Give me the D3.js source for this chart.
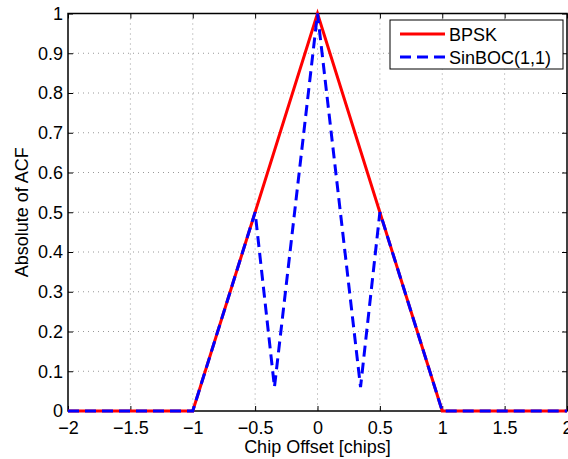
<!DOCTYPE html>
<html><head><meta charset="utf-8">
<script src="https://cdn.jsdelivr.net/npm/d3@7"></script>
<style>
body{margin:0;background:#fff;}
text{font-family:"Liberation Sans",Arial,Helvetica,sans-serif;}
</style></head>
<body>
<svg id="chart" width="568" height="459"></svg>
<script>
// Data
const bpskX = [-2, -1, 0, 1, 2];
const bpskY = [0, 0, 1, 0, 0];
const bocX = [-2, -1, -0.5, -0.345, 0, 0.345, 0.5, 1, 2];
const bocY = [0, 0, 0.5, 0.06, 1, 0.06, 0.5, 0, 0];
const xTicks = [-2, -1.5, -1, -0.5, 0, 0.5, 1, 1.5, 2];
const yTicks = [0, 0.1, 0.2, 0.3, 0.4, 0.5, 0.6, 0.7, 0.8, 0.9, 1];
const seriesNames = ["BPSK", "SinBOC(1,1)"];

const FS = 18;
const svg = d3.select("#chart");
const L = 68, R = 567, T = 13.5, B = 411;
const x = d3.scaleLinear().domain([-2, 2]).range([L, R]);
const y = d3.scaleLinear().domain([0, 1]).range([B, T]);
const fmt = d => (d < 0 ? "\u2212" : "") + String(Math.abs(d));

// grid
const grid = svg.append("g");
grid.selectAll(".gx").data(xTicks.slice(1, -1)).enter().append("line")
  .attr("x1", d => x(d)).attr("x2", d => x(d)).attr("y1", T).attr("y2", B)
  .attr("stroke", "#999").attr("stroke-width", 1).attr("stroke-dasharray", "1,4");
grid.selectAll(".gy").data(yTicks.slice(1, -1)).enter().append("line")
  .attr("y1", d => y(d)).attr("y2", d => y(d)).attr("x1", L).attr("x2", R)
  .attr("stroke", "#999").attr("stroke-width", 1).attr("stroke-dasharray", "1,4");

// axes
const xAxis = d3.axisBottom(x).tickValues(xTicks).tickSize(-5).tickPadding(10).tickFormat(fmt);
const yAxis = d3.axisLeft(y).tickValues(yTicks).tickSize(-5).tickPadding(5).tickFormat(d => String(d));
const xAxisTop = d3.axisTop(x).tickValues(xTicks).tickSize(-5).tickFormat("");
const yAxisRight = d3.axisRight(y).tickValues(yTicks).tickSize(-5).tickFormat("");

function styleAxis(g) {
  g.select(".domain").remove();
  g.selectAll(".tick line").attr("stroke", "#000").attr("stroke-width", 1);
  g.selectAll(".tick text").attr("font-size", FS).attr("fill", "#000")
    .attr("font-family", '"Liberation Sans",Arial,sans-serif');
}
svg.append("g").attr("transform", `translate(0,${B})`).call(xAxis).call(styleAxis);
svg.append("g").attr("transform", `translate(${L},0)`).call(yAxis).call(styleAxis);
svg.append("g").attr("transform", `translate(0,${T})`).call(xAxisTop).call(styleAxis);
svg.append("g").attr("transform", `translate(${R},0)`).call(yAxisRight).call(styleAxis);

// box
svg.append("rect").attr("x", L).attr("y", T).attr("width", R - L).attr("height", B - T)
  .attr("fill", "none").attr("stroke", "#000").attr("stroke-width", 1.5);

// lines
const line = d3.line().x(d => x(d[0])).y(d => y(d[1]));
const bpsk = bpskX.map((v, i) => [v, bpskY[i]]);
const boc = bocX.map((v, i) => [v, bocY[i]]);
svg.append("path").datum(bpsk).attr("d", line).attr("fill", "none")
  .attr("stroke", "#ff0000").attr("stroke-width", 3).attr("stroke-linejoin", "miter");
svg.append("path").datum(boc).attr("d", line).attr("fill", "none")
  .attr("stroke", "#0000ff").attr("stroke-width", 3).attr("stroke-dasharray", "11,6");

// axis labels
svg.append("text").attr("x", (L + R) / 2).attr("y", 453).attr("text-anchor", "middle")
  .attr("font-size", FS).text("Chip Offset [chips]");
svg.append("text").attr("transform", `translate(28,${(T + B) / 2}) rotate(-90)`)
  .attr("text-anchor", "middle").attr("font-size", FS).text("Absolute of ACF");

// legend
const lg = svg.append("g");
lg.append("rect").attr("x", 390).attr("y", 20).attr("width", 173).attr("height", 49)
  .attr("fill", "#fff").attr("stroke", "#000").attr("stroke-width", 1);
const colors = ["#ff0000", "#0000ff"];
const dashes = [null, "11,6"];
seriesNames.forEach((n, i) => {
  const yy = 34 + i * 23;
  lg.append("line").attr("x1", 400).attr("x2", 445).attr("y1", yy).attr("y2", yy)
    .attr("stroke", colors[i]).attr("stroke-width", 3).attr("stroke-dasharray", dashes[i]);
  lg.append("text").attr("x", 449).attr("y", yy + 6.5).attr("font-size", FS).text(n);
});
</script>
</body></html>
